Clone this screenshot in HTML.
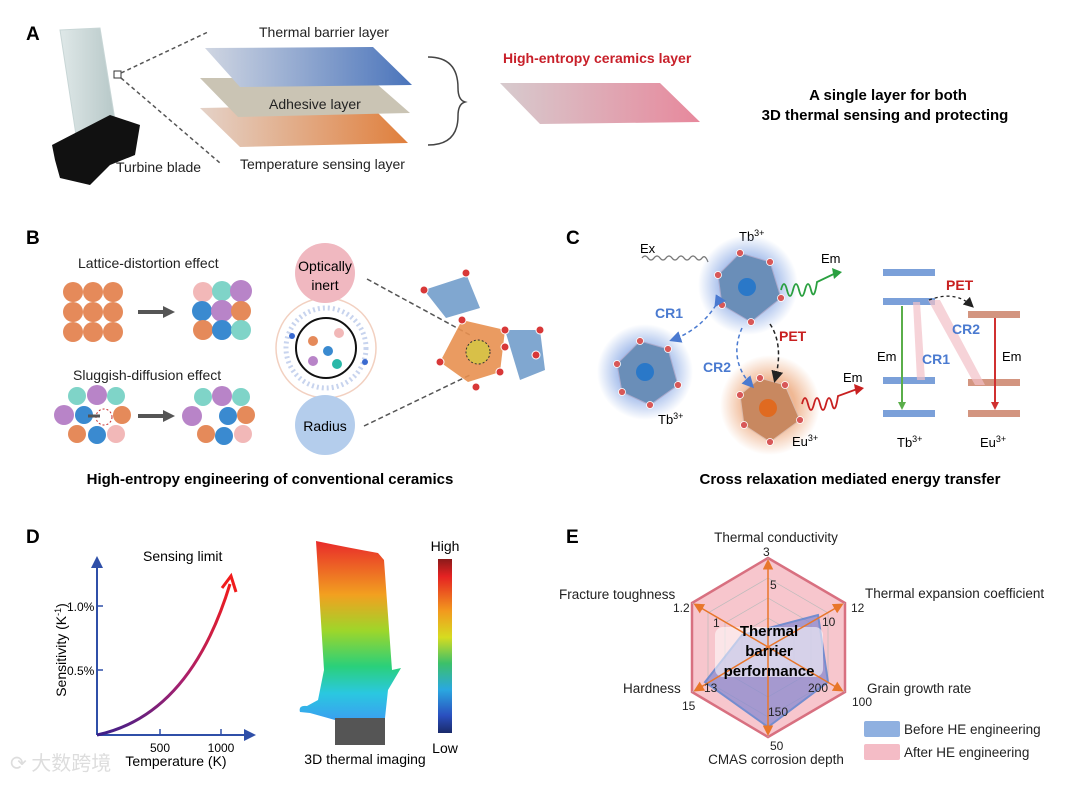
<!DOCTYPE html>
<html><head><meta charset="utf-8"><style>
html,body{margin:0;padding:0;background:#fff;}
svg{display:block;font-family:"Liberation Sans",Arial,sans-serif;}
</style></head><body>
<svg width="1080" height="787" viewBox="0 0 1080 787" xmlns="http://www.w3.org/2000/svg">
<defs>
<linearGradient id="gBlue" x1="0" x2="1"><stop offset="0" stop-color="#d0d6e2"/><stop offset="1" stop-color="#4a74bb"/></linearGradient>
<linearGradient id="gOr" x1="0" x2="1"><stop offset="0" stop-color="#e4d2c8"/><stop offset="1" stop-color="#e07f3c"/></linearGradient>
<linearGradient id="gPink" x1="0" x2="1"><stop offset="0" stop-color="#d7cbce"/><stop offset="1" stop-color="#e7889c"/></linearGradient>
<linearGradient id="gCurve" x1="0" y1="1" x2="1" y2="0"><stop offset="0" stop-color="#3a1f8a"/><stop offset="0.5" stop-color="#a8206e"/><stop offset="1" stop-color="#f01c1c"/></linearGradient>
<linearGradient id="gBar" x1="0" y1="0" x2="0" y2="1"><stop offset="0" stop-color="#8b1a1a"/><stop offset="0.1" stop-color="#e52222"/><stop offset="0.3" stop-color="#f29a1e"/><stop offset="0.45" stop-color="#d6dc20"/><stop offset="0.6" stop-color="#3cc06a"/><stop offset="0.75" stop-color="#2aa8e0"/><stop offset="0.9" stop-color="#2a4fbf"/><stop offset="1" stop-color="#1a2a6a"/></linearGradient>
<linearGradient id="gBlade" x1="0" y1="0" x2="0" y2="1"><stop offset="0" stop-color="#e82a2a"/><stop offset="0.3" stop-color="#f2a020"/><stop offset="0.5" stop-color="#9ed62a"/><stop offset="0.7" stop-color="#2ad07a"/><stop offset="0.85" stop-color="#2ac8e0"/><stop offset="1" stop-color="#3aa0f0"/></linearGradient>
<linearGradient id="gBl" x1="0" x2="1"><stop offset="0" stop-color="#dfe8e8"/><stop offset="1" stop-color="#b7c8c8"/></linearGradient>
<radialGradient id="glowB"><stop offset="0.5" stop-color="#9fb9ea"/><stop offset="1" stop-color="#9fb9ea" stop-opacity="0"/></radialGradient>
<radialGradient id="glowO"><stop offset="0.5" stop-color="#f0b894"/><stop offset="1" stop-color="#f0b894" stop-opacity="0"/></radialGradient>
<marker id="ab" markerWidth="8" markerHeight="8" refX="6" refY="4" orient="auto"><path d="M0,0 L8,4 L0,8z" fill="#4a7ad0"/></marker>
<marker id="ak" markerWidth="8" markerHeight="8" refX="6" refY="4" orient="auto"><path d="M0,0 L8,4 L0,8z" fill="#222"/></marker>
<marker id="ao" markerWidth="7" markerHeight="7" refX="5" refY="3.5" orient="auto"><path d="M0,0 L7,3.5 L0,7z" fill="#e8762a"/></marker>
<marker id="abig" markerWidth="6" markerHeight="6" refX="3" refY="3" orient="auto"><path d="M0,0 L6,3 L0,6z" fill="#2f4fa8"/></marker>
</defs>

<!-- Panel A -->
<text x="26" y="40" font-size="19" font-weight="bold">A</text>
<path d="M60,30 L100,28 L115,120 L85,128 L82,138 Q78,140 76,135 Z" fill="url(#gBl)" stroke="#c8d6d6"/>
<path d="M52,145 L110,115 L140,125 L135,155 L110,165 L90,185 L60,178 L55,160Z" fill="#111"/>
<rect x="114" y="71" width="7" height="7" fill="none" stroke="#333"/>
<line x1="121" y1="73" x2="208" y2="32" stroke="#555" stroke-dasharray="4,3" stroke-width="1.5"/>
<line x1="121" y1="78" x2="220" y2="163" stroke="#555" stroke-dasharray="4,3" stroke-width="1.5"/>
<text x="116" y="172" font-size="14" fill="#222">Turbine blade</text>
<polygon points="200,108 370,105 408,143 240,147" fill="url(#gOr)"/>
<polygon points="200,78 370,78 410,113 238,117" fill="#cac4b4"/>
<polygon points="205,48 373,47 412,85 240,87" fill="url(#gBlue)"/>
<text x="259" y="37" font-size="14" fill="#222">Thermal barrier layer</text>
<text x="269" y="109" font-size="14" fill="#222">Adhesive layer</text>
<text x="240" y="169" font-size="14" fill="#222">Temperature sensing layer</text>
<path d="M428,57 Q458,57 458,88 Q458,100 465,102 Q458,104 458,116 Q458,145 428,145" fill="none" stroke="#444" stroke-width="1.5"/>
<text x="503" y="63" font-size="14" font-weight="bold" fill="#c8202a">High-entropy ceramics layer</text>
<polygon points="500,83 660,83 700,122 540,124" fill="url(#gPink)"/>
<text x="888" y="100" font-size="15" font-weight="bold" text-anchor="middle">A single layer for both</text>
<text x="885" y="120" font-size="15" font-weight="bold" text-anchor="middle">3D thermal sensing and protecting</text>

<!-- Panel B -->
<text x="26" y="244" font-size="19" font-weight="bold">B</text>
<text x="78" y="268" font-size="14" fill="#222">Lattice-distortion effect</text>
<g fill="#e58a5a">
<circle cx="73" cy="292" r="10"/><circle cx="93" cy="292" r="10"/><circle cx="113" cy="292" r="10"/>
<circle cx="73" cy="312" r="10"/><circle cx="93" cy="312" r="10"/><circle cx="113" cy="312" r="10"/>
<circle cx="73" cy="332" r="10"/><circle cx="93" cy="332" r="10"/><circle cx="113" cy="332" r="10"/></g>
<path d="M138,312 L165,312" stroke="#555" stroke-width="4"/><path d="M163,306 L175,312 L163,318z" fill="#555"/>
<circle cx="203" cy="292" r="10" fill="#f2b8b8"/><circle cx="222" cy="291" r="10" fill="#7fd4c8"/><circle cx="241" cy="291" r="11" fill="#b884c8"/>
<circle cx="202" cy="311" r="10" fill="#3a8ad0"/><circle cx="222" cy="311" r="11" fill="#b884c8"/><circle cx="241" cy="311" r="10" fill="#e58a5a"/>
<circle cx="203" cy="330" r="10" fill="#e58a5a"/><circle cx="222" cy="330" r="10" fill="#3a8ad0"/><circle cx="241" cy="330" r="10" fill="#7fd4c8"/>
<text x="73" y="380" font-size="14" fill="#222">Sluggish-diffusion effect</text>
<circle cx="77" cy="396" r="9" fill="#7fd4c8"/><circle cx="97" cy="395" r="10" fill="#b884c8"/><circle cx="116" cy="396" r="9" fill="#7fd4c8"/>
<circle cx="64" cy="415" r="10" fill="#b884c8"/><circle cx="84" cy="415" r="9" fill="#3a8ad0"/><circle cx="104" cy="417" r="8" fill="none" stroke="#c83030" stroke-dasharray="2,2"/><circle cx="122" cy="415" r="9" fill="#e58a5a"/>
<circle cx="77" cy="434" r="9" fill="#e58a5a"/><circle cx="97" cy="435" r="9" fill="#3a8ad0"/><circle cx="116" cy="434" r="9" fill="#f2b8b8"/>
<path d="M88,416 L100,416" stroke="#555" stroke-width="3"/>
<path d="M138,416 L165,416" stroke="#555" stroke-width="4"/><path d="M163,410 L175,416 L163,422z" fill="#555"/>
<circle cx="203" cy="397" r="9" fill="#7fd4c8"/><circle cx="222" cy="396" r="10" fill="#b884c8"/><circle cx="241" cy="397" r="9" fill="#7fd4c8"/>
<circle cx="192" cy="416" r="10" fill="#b884c8"/><circle cx="228" cy="416" r="9" fill="#3a8ad0"/><circle cx="246" cy="415" r="9" fill="#e58a5a"/>
<circle cx="206" cy="434" r="9" fill="#e58a5a"/><circle cx="224" cy="436" r="9" fill="#3a8ad0"/><circle cx="243" cy="434" r="9" fill="#f2b8b8"/>
<circle cx="326" cy="348" r="50" fill="none" stroke="#f2d0c0" stroke-width="1.5"/>
<circle cx="326" cy="348" r="40" fill="none" stroke="#c8d4ee" stroke-width="5" stroke-dasharray="2,3"/>
<circle cx="326" cy="348" r="30" fill="#fff" stroke="#111" stroke-width="2"/>
<circle cx="292" cy="336" r="3" fill="#3a6ad0"/><circle cx="365" cy="362" r="3" fill="#3a6ad0"/>
<circle cx="313" cy="341" r="5" fill="#e58a5a"/><circle cx="339" cy="333" r="5" fill="#f2b8b8"/><circle cx="328" cy="351" r="5" fill="#3a8ad0"/><circle cx="313" cy="361" r="5" fill="#b884c8"/><circle cx="337" cy="364" r="5" fill="#2ab8a8"/>
<circle cx="325" cy="273" r="30" fill="#f0b8c0"/>
<text x="325" y="271" font-size="14" text-anchor="middle">Optically</text><text x="325" y="290" font-size="14" text-anchor="middle">inert</text>
<circle cx="325" cy="425" r="30" fill="#b4cdec"/>
<text x="325" y="431" font-size="14" text-anchor="middle">Radius</text>
<line x1="367" y1="279" x2="470" y2="335" stroke="#555" stroke-dasharray="5,3" stroke-width="1.5"/>
<line x1="364" y1="426" x2="470" y2="375" stroke="#555" stroke-dasharray="5,3" stroke-width="1.5"/>
<polygon points="424,290 467,276 480,308 446,318" fill="#6a98c8" opacity="0.85"/>
<polygon points="462,320 505,330 500,372 468,382 440,362" fill="#e89050" opacity="0.9"/>
<polygon points="505,330 540,330 545,370 520,380" fill="#6a98c8" opacity="0.85"/>
<circle cx="478" cy="352" r="12" fill="#d8c048" stroke="#333" stroke-dasharray="2,2"/>
<g fill="#d83838" stroke="#fff" stroke-width="1"><circle cx="424" cy="290" r="4"/><circle cx="466" cy="273" r="4"/><circle cx="462" cy="320" r="4"/><circle cx="505" cy="330" r="4"/><circle cx="440" cy="362" r="4"/><circle cx="500" cy="372" r="4"/><circle cx="476" cy="387" r="4"/><circle cx="540" cy="330" r="4"/><circle cx="536" cy="355" r="4"/><circle cx="505" cy="347" r="4"/></g>
<text x="270" y="484" font-size="15" font-weight="bold" text-anchor="middle">High-entropy engineering of conventional ceramics</text>

<!-- Panel C -->
<text x="566" y="244" font-size="19" font-weight="bold">C</text>
<text x="640" y="253" font-size="13">Ex</text>
<path d="M642,258 q3,-4 6,0 t6,0 t6,0 t6,0 t6,0 t6,0 t6,0 t6,0 t6,0 t6,0 t6,4" fill="none" stroke="#777" stroke-width="1.3"/>
<text x="739" y="241" font-size="13">Tb<tspan font-size="9" dy="-5">3+</tspan></text>
<circle cx="748" cy="285" r="50" fill="url(#glowB)"/>
<polygon points="740,253 770,262 781,298 751,322 722,305 718,275" fill="#6a8eb8" stroke="#aac" />
<circle cx="747" cy="287" r="9" fill="#2a78c8"/>
<circle cx="645" cy="372" r="48" fill="url(#glowB)"/>
<polygon points="640,341 668,349 678,385 650,405 622,392 617,364" fill="#6a8eb8" stroke="#aac"/>
<circle cx="645" cy="372" r="9" fill="#2a78c8"/>
<text x="658" y="424" font-size="13">Tb<tspan font-size="9" dy="-5">3+</tspan></text>
<circle cx="770" cy="405" r="50" fill="url(#glowO)"/>
<polygon points="760,378 785,385 800,420 770,442 744,425 740,395" fill="#c88860" stroke="#dba"/>
<circle cx="768" cy="408" r="9" fill="#e06a20"/>
<text x="792" y="446" font-size="13">Eu<tspan font-size="9" dy="-5">3+</tspan></text>
<g fill="#d85858" stroke="#fff" stroke-width="0.8"><circle cx="740" cy="253" r="3.5"/><circle cx="770" cy="262" r="3.5"/><circle cx="781" cy="298" r="3.5"/><circle cx="751" cy="322" r="3.5"/><circle cx="722" cy="305" r="3.5"/><circle cx="718" cy="275" r="3.5"/>
<circle cx="640" cy="341" r="3.5"/><circle cx="668" cy="349" r="3.5"/><circle cx="678" cy="385" r="3.5"/><circle cx="650" cy="405" r="3.5"/><circle cx="622" cy="392" r="3.5"/><circle cx="617" cy="364" r="3.5"/>
<circle cx="760" cy="378" r="3.5"/><circle cx="785" cy="385" r="3.5"/><circle cx="800" cy="420" r="3.5"/><circle cx="770" cy="442" r="3.5"/><circle cx="744" cy="425" r="3.5"/><circle cx="740" cy="395" r="3.5"/></g>
<path d="M781,290 q3,-12 6,0 t6,0 t6,0 t6,0 t6,0 t6,-8 L838,272" fill="none" stroke="#2aa040" stroke-width="1.8"/>
<path d="M832,268 L842,272 L834,279z" fill="#2aa040"/>
<text x="821" y="263" font-size="13">Em</text>
<path d="M802,404 q3,-12 6,0 t6,0 t6,0 t6,0 t6,0 t6,-8 L860,388" fill="none" stroke="#c82020" stroke-width="1.8"/>
<path d="M854,384 L864,388 L856,395z" fill="#c82020"/>
<text x="843" y="382" font-size="13">Em</text>
<path d="M716,305 Q700,330 672,340" fill="none" stroke="#4a7ad0" stroke-width="1.5" stroke-dasharray="4,3" marker-end="url(#ab)" marker-start="url(#ab)"/>
<text x="655" y="318" font-size="14" font-weight="bold" fill="#4a7ad0">CR1</text>
<path d="M742,328 Q728,360 752,386" fill="none" stroke="#4a7ad0" stroke-width="1.5" stroke-dasharray="4,3" marker-end="url(#ab)"/>
<text x="703" y="372" font-size="14" font-weight="bold" fill="#4a7ad0">CR2</text>
<path d="M770,324 Q784,345 775,380" fill="none" stroke="#222" stroke-width="1.5" stroke-dasharray="4,3" marker-end="url(#ak)"/>
<text x="779" y="341" font-size="14" font-weight="bold" fill="#c82020">PET</text>
<g>
<rect x="883" y="269" width="52" height="7" fill="#5a88d0" opacity="0.8"/>
<rect x="883" y="298" width="52" height="7" fill="#5a88d0" opacity="0.8"/>
<rect x="883" y="377" width="52" height="7" fill="#5a88d0" opacity="0.8"/>
<rect x="883" y="410" width="52" height="7" fill="#5a88d0" opacity="0.8"/>
<rect x="968" y="311" width="52" height="7" fill="#c87a60" opacity="0.8"/>
<rect x="968" y="379" width="52" height="7" fill="#c87a60" opacity="0.8"/>
<rect x="968" y="410" width="52" height="7" fill="#c87a60" opacity="0.8"/>
<polygon points="928,300 940,300 985,385 975,385" fill="#f2c0c8" opacity="0.7"/>
<polygon points="913,302 920,302 925,380 917,380" fill="#f2c0c8" opacity="0.7"/>
<line x1="902" y1="306" x2="902" y2="406" stroke="#5aae4a" stroke-width="2"/><path d="M898,402 L902,410 L906,402z" fill="#5aae4a"/>
<line x1="995" y1="318" x2="995" y2="406" stroke="#d03030" stroke-width="2"/><path d="M991,402 L995,410 L999,402z" fill="#d03030"/>
<path d="M929,300 Q955,290 972,306" fill="none" stroke="#222" stroke-width="1.3" stroke-dasharray="3,3" marker-end="url(#ak)"/>
<text x="946" y="290" font-size="14" font-weight="bold" fill="#c82020">PET</text>
<text x="952" y="334" font-size="14" font-weight="bold" fill="#4a7ad0">CR2</text>
<text x="922" y="364" font-size="14" font-weight="bold" fill="#4a7ad0">CR1</text>
<text x="877" y="361" font-size="13">Em</text>
<text x="1002" y="361" font-size="13">Em</text>
<text x="897" y="447" font-size="13">Tb<tspan font-size="9" dy="-5">3+</tspan></text>
<text x="980" y="447" font-size="13">Eu<tspan font-size="9" dy="-5">3+</tspan></text>
</g>
<text x="850" y="484" font-size="15" font-weight="bold" text-anchor="middle">Cross relaxation mediated energy transfer</text>

<!-- Panel D -->
<text x="26" y="543" font-size="19" font-weight="bold">D</text>
<line x1="97" y1="735" x2="97" y2="562" stroke="#2f4fa8" stroke-width="2" marker-end="url(#abig)"/>
<line x1="97" y1="735" x2="250" y2="735" stroke="#2f4fa8" stroke-width="2" marker-end="url(#abig)"/>
<line x1="160" y1="729" x2="160" y2="735" stroke="#2f4fa8" stroke-width="1.5"/><line x1="221" y1="729" x2="221" y2="735" stroke="#2f4fa8" stroke-width="1.5"/>
<line x1="97" y1="606" x2="103" y2="606" stroke="#2f4fa8" stroke-width="1.5"/><line x1="97" y1="670" x2="103" y2="670" stroke="#2f4fa8" stroke-width="1.5"/>
<path d="M97,735 Q190,715 230,584" fill="none" stroke="url(#gCurve)" stroke-width="3"/>
<path d="M222,588 L231,576 L236,592" fill="none" stroke="#f01c1c" stroke-width="3"/>
<text x="143" y="561" font-size="14">Sensing limit</text>
<text x="67" y="611" font-size="12">1.0%</text>
<text x="67" y="675" font-size="12">0.5%</text>
<text x="160" y="752" font-size="12" text-anchor="middle">500</text>
<text x="221" y="752" font-size="12" text-anchor="middle">1000</text>
<text x="176" y="766" font-size="14" text-anchor="middle">Temperature (K)</text>
<text transform="translate(66,650) rotate(-90)" font-size="14" text-anchor="middle">Sensitivity (K<tspan font-size="9" dy="-5">-1</tspan><tspan dy="5">)</tspan></text>
<path d="M316,541 Q350,548 378,553 L384,560 L392,670 L401,668 L388,690 L385,718 L335,720 L310,713 L300,712 Q298,705 307,706 L318,700 L324,670 Z" fill="url(#gBlade)"/>
<rect x="335" y="718" width="50" height="27" fill="#555"/>
<text x="365" y="764" font-size="14" text-anchor="middle">3D thermal imaging</text>
<rect x="438" y="559" width="14" height="174" fill="url(#gBar)"/>
<text x="445" y="551" font-size="14" text-anchor="middle">High</text>
<text x="445" y="753" font-size="14" text-anchor="middle">Low</text>
<text x="10" y="770" font-size="20" fill="#ddd" font-family="'Noto Sans CJK SC',sans-serif">⟳ 大数跨境</text>

<!-- Panel E -->
<text x="566" y="543" font-size="19" font-weight="bold">E</text>
<polygon points="768,558 845,603 845,692 768,737 692,692 692,603" fill="#f7c6cd" stroke="#d87080" stroke-width="2.5"/>
<g fill="none" stroke="#bbb" stroke-width="0.7">
<polygon points="768,578 828,613 828,682 768,717 708,682 708,613"/>
<polygon points="768,598 811,623 811,672 768,697 725,672 725,623"/>
<polygon points="768,618 794,633 794,662 768,677 742,662 742,633"/>
<line x1="768" y1="558" x2="768" y2="737"/><line x1="692" y1="603" x2="845" y2="692"/><line x1="692" y1="692" x2="845" y2="603"/></g>
<polygon points="742,635 818,615 828,682 768,727 705,682" fill="#8a8ad0" opacity="0.75" stroke="#4a7ad0" stroke-width="2"/>
<rect x="715" y="627" width="108" height="50" rx="8" fill="#fff" opacity="0.55"/>
<g stroke="#e8762a" stroke-width="1.5"><line x1="768" y1="647" x2="768" y2="562" marker-end="url(#ao)"/><line x1="768" y1="647" x2="841" y2="605" marker-end="url(#ao)"/><line x1="768" y1="647" x2="841" y2="690" marker-end="url(#ao)"/><line x1="768" y1="647" x2="768" y2="733" marker-end="url(#ao)"/><line x1="768" y1="647" x2="696" y2="690" marker-end="url(#ao)"/><line x1="768" y1="647" x2="696" y2="605" marker-end="url(#ao)"/></g>
<text x="769" y="636" font-size="15" font-weight="bold" text-anchor="middle">Thermal</text>
<text x="769" y="656" font-size="15" font-weight="bold" text-anchor="middle">barrier</text>
<text x="769" y="676" font-size="15" font-weight="bold" text-anchor="middle">performance</text>
<g font-size="12" fill="#222">
<text x="763" y="556">3</text><text x="770" y="589">5</text><text x="851" y="612">12</text><text x="822" y="626">10</text>
<text x="852" y="706">100</text><text x="808" y="692">200</text><text x="770" y="750">50</text><text x="768" y="716">150</text>
<text x="682" y="710">15</text><text x="704" y="692">13</text><text x="673" y="612">1.2</text><text x="713" y="627">1</text></g>
<g font-size="13.5" fill="#222">
<text x="776" y="542" text-anchor="middle">Thermal conductivity</text>
<text x="865" y="598">Thermal expansion coefficient</text>
<text x="559" y="599">Fracture toughness</text>
<text x="623" y="693">Hardness</text>
<text x="867" y="693">Grain growth rate</text>
<text x="776" y="764" text-anchor="middle">CMAS corrosion depth</text>
<text x="904" y="734">Before HE engineering</text>
<text x="904" y="757">After HE engineering</text></g>
<rect x="864" y="721" width="36" height="16" rx="2" fill="#8fb0e0"/>
<rect x="864" y="744" width="36" height="16" rx="2" fill="#f4bcc6"/>
</svg>
</body></html>
